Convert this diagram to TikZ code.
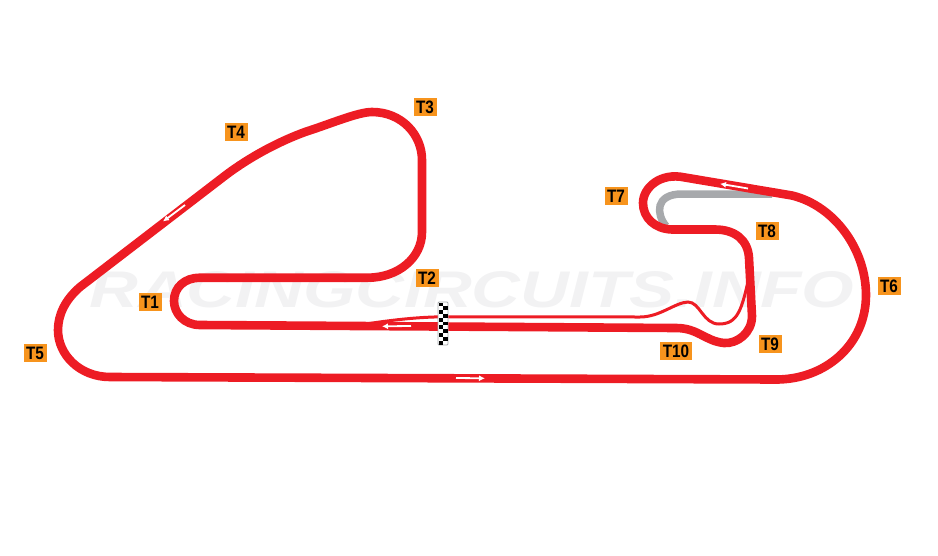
\documentclass[tikz,border=0pt]{standalone}
\usepackage{fontspec}
\usepackage{graphicx}
\setmainfont{Liberation Sans}
\definecolor{trk}{HTML}{ED1C24}
\definecolor{alt}{HTML}{A7A9AC}
\definecolor{lab}{HTML}{F7941D}
\definecolor{wm}{HTML}{F2F2F3}
\usetikzlibrary{arrows.meta}
\newcommand{\turntext}[1]{\scalebox{.85}[1]{#1}}
\tikzset{
  turn/.style={fill=lab,inner sep=0pt,minimum width=23pt,minimum height=18pt,font=\bfseries\fontsize{18}{18}\selectfont,text=black},
  mainline/.style={draw=trk,line width=8.6pt,line join=round,fill=none},
  pitline/.style={draw=trk,line width=3pt,line cap=round,fill=none},
  altline/.style={draw=alt,line width=7.5pt,fill=none},
  dirarrow/.style={draw=white,line width=1.8pt,-{Latex[length=6pt,width=6pt]}}
}
\begin{document}
\begin{tikzpicture}[x=1pt,y=-1pt]
\useasboundingbox (0,0) rectangle (938,555);
\node[font=\bfseries\itshape\fontsize{46}{46}\selectfont,text=wm,inner sep=0pt] (wmark) at (472,290) {\resizebox{765pt}{36pt}{RACINGCIRCUITS.INFO}};
% alternative loop
\draw[altline] (666,226) .. controls (656,214) and (655,194) .. (682,194) -- (772,194);
% main circuit
\draw[mainline] (110,377) -- (775,379.5)
 .. controls (825,380) and (866,345) .. (866,295)
 .. controls (866,250) and (835,206) .. (792,195.5)
 -- (685,177.5)
 .. controls (660,172) and (643,188) .. (643,203)
 .. controls (643,218) and (655,229) .. (672,229.5)
 -- (715,229.5)
 .. controls (735,229.5) and (748,240) .. (749,258)
 -- (752,316)
 .. controls (752,333) and (737,344) .. (724,343)
 .. controls (705,341) and (698,328) .. (676,328)
 -- (200,325)
 .. controls (184,325) and (174,313) .. (174,301)
 .. controls (174,287) and (185,277.7) .. (200,277.7)
 -- (368,277.7)
 .. controls (398,277.7) and (422,258) .. (422,232)
 -- (422,160)
 .. controls (422,135) and (402,112) .. (372,112)
 .. controls (358,112) and (330,124) .. (305,132)
 .. controls (275,143) and (245,160) .. (222,178)
 -- (80,287)
 .. controls (65,300) and (58,315) .. (58,330)
 .. controls (58,355) and (80,377) .. (110,377) -- cycle;
% pit / inner line
\draw[pitline] (360,325) .. controls (390,320) and (420,316.8) .. (445,316.8)
 -- (640,317)
 .. controls (660,317) and (675,302.5) .. (688,302)
 .. controls (700,302) and (703,324) .. (719,324)
 .. controls (738,324) and (742,310) .. (750,272);
% direction arrows
\draw[dirarrow] (456,378) -- (485,378.3);
\draw[dirarrow] (748,188.5) -- (720,183.8);
\draw[dirarrow] (185,205) -- (163,221.5);
\draw[dirarrow] (411,326) -- (382,326.3);
% start line
\draw[alt,line width=.8pt,rounded corners=1pt,fill=white] (438,302) rectangle (448,345);
\foreach \i in {0,...,10}{
  \pgfmathsetmacro{\yy}{302.5+3.82*\i}
  \pgfmathsetmacro{\xx}{mod(\i,2)==0 ? 438.5 : 443}
  \fill[black] (\xx,\yy) rectangle ++(4.5,3.82);
}
% turn labels
\node[turn] (t1) at (150,302) {\turntext{T1}};
\node[turn] (t2) at (427,278) {\turntext{T2}};
\node[turn] (t3) at (425,107) {\turntext{T3}};
\node[turn] (t4) at (236,132) {\turntext{T4}};
\node[turn] (t5) at (35,353) {\turntext{T5}};
\node[turn] (t6) at (889,286) {\turntext{T6}};
\node[turn] (t7) at (616,196) {\turntext{T7}};
\node[turn] (t8) at (767,231) {\turntext{T8}};
\node[turn] (t9) at (770,344) {\turntext{T9}};
\node[turn,minimum width=32pt] (t10) at (676,351) {\turntext{T10}};
\end{tikzpicture}
\end{document}
